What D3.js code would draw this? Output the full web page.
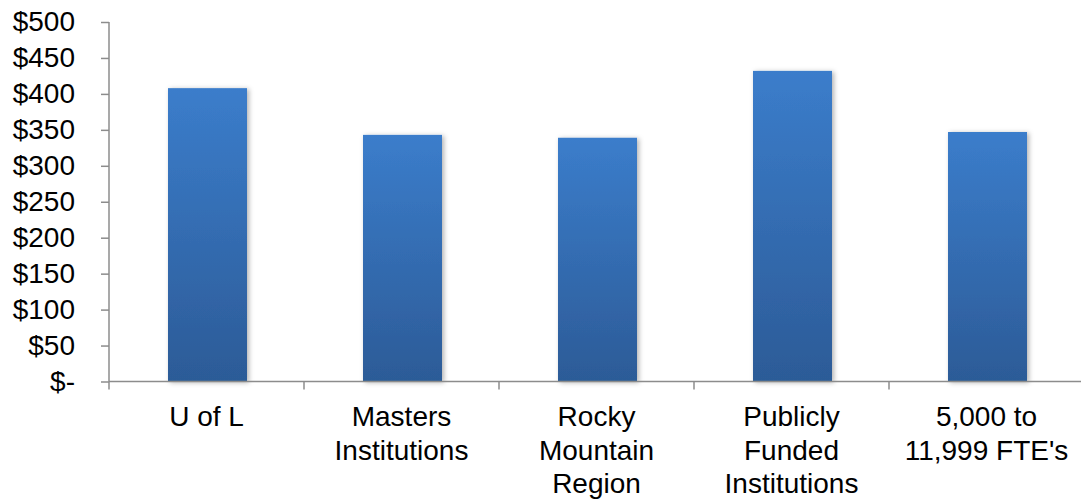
<!DOCTYPE html>
<html>
<head>
<meta charset="utf-8">
<script src="https://cdn.jsdelivr.net/npm/d3@7"></script>
<style>
  body { margin: 0; background: #fff; }
  svg text { font-family: "Liberation Sans", Arial, sans-serif; fill: #000; }
</style>
</head>
<body>
<div id="chart"></div>
<script>
// chart data
var categories = ["U of L", "Masters Institutions", "Rocky Mountain Region", "Publicly Funded Institutions", "5,000 to 11,999 FTE's"];
var categoryLines = [["U of L"], ["Masters", "Institutions"], ["Rocky", "Mountain", "Region"], ["Publicly", "Funded", "Institutions"], ["5,000 to", "11,999 FTE's"]];
var values = [408, 343, 339, 432, 347];
var yTicks = [0, 50, 100, 150, 200, 250, 300, 350, 400, 450, 500];

var W = 1081, H = 504;
var plotLeft = 109, plotRight = 1084, plotTop = 22, plotBottom = 381.5;

var svg = d3.select("#chart").append("svg")
    .attr("width", W)
    .attr("height", H);

var defs = svg.append("defs");
var grad = defs.append("linearGradient")
    .attr("id", "barGrad")
    .attr("x1", 0).attr("y1", 0).attr("x2", 0).attr("y2", 1);
grad.append("stop").attr("offset", "0%").attr("stop-color", "#3b7dcb");
grad.append("stop").attr("offset", "100%").attr("stop-color", "#2c5b97");

var shadow = defs.append("filter")
    .attr("id", "shadow")
    .attr("x", "-20%").attr("y", "-20%").attr("width", "140%").attr("height", "140%");
shadow.append("feDropShadow")
    .attr("dx", 2).attr("dy", 1)
    .attr("stdDeviation", 2.5)
    .attr("flood-color", "#000")
    .attr("flood-opacity", 0.3);

var x = d3.scaleBand()
    .domain(categories)
    .range([plotLeft, plotRight])
    .paddingInner(0)
    .paddingOuter(0);

var y = d3.scaleLinear()
    .domain([0, 500])
    .range([plotBottom, plotTop]);

var barW = 79;

// bars
svg.append("g")
  .selectAll("rect")
  .data(values)
  .enter()
  .append("rect")
    .attr("x", function(d, i) { return x(categories[i]) + x.bandwidth() / 2 - barW / 2 + 1; })
    .attr("y", function(d) { return y(d); })
    .attr("width", barW)
    .attr("height", function(d) { return y(0) - y(d); })
    .attr("fill", "url(#barGrad)")
    .attr("filter", "url(#shadow)");

// y axis
var yAxis = d3.axisLeft(y)
    .tickValues(yTicks)
    .tickSize(8)
    .tickPadding(26)
    .tickFormat(function(d) { return d === 0 ? "$-" : "$" + d; });

var gy = svg.append("g")
    .attr("transform", "translate(" + plotLeft + ",0)")
    .call(yAxis);
gy.select(".domain").attr("stroke", "#8c8c8c").attr("stroke-width", 1.5)
    .attr("d", "M0," + plotTop + "V" + plotBottom);
gy.selectAll(".tick line").attr("stroke", "#8c8c8c").attr("stroke-width", 1.5);
gy.selectAll(".tick text")
    .style("font-size", "28px")
    .style("font-family", "'Liberation Sans', Arial, sans-serif")
    .attr("fill", "#000");

// x axis baseline and boundary ticks
var boundaries = categories.map(function(c) { return x(c); }).concat([plotRight]);
svg.append("line")
    .attr("x1", plotLeft).attr("x2", plotRight)
    .attr("y1", y(0)).attr("y2", y(0))
    .attr("stroke", "#8c8c8c").attr("stroke-width", 1.5);
svg.append("g")
  .selectAll("line")
  .data(boundaries)
  .enter()
  .append("line")
    .attr("x1", function(d) { return d; })
    .attr("x2", function(d) { return d; })
    .attr("y1", y(0))
    .attr("y2", y(0) + 8)
    .attr("stroke", "#8c8c8c").attr("stroke-width", 1.5);

// category labels
var labels = svg.append("g")
  .selectAll("text")
  .data(categoryLines)
  .enter()
  .append("text")
    .attr("text-anchor", "middle")
    .style("font-size", "28px")
    .attr("x", function(d, i) { return x(categories[i]) + x.bandwidth() / 2; })
    .attr("y", 426);

labels.selectAll("tspan")
  .data(function(d) { return d; })
  .enter()
  .append("tspan")
    .attr("x", function() { return d3.select(this.parentNode).attr("x"); })
    .attr("dy", function(d, i) { return i === 0 ? 0 : 33.5; })
    .text(function(d) { return d; });
</script>
</body>
</html>
